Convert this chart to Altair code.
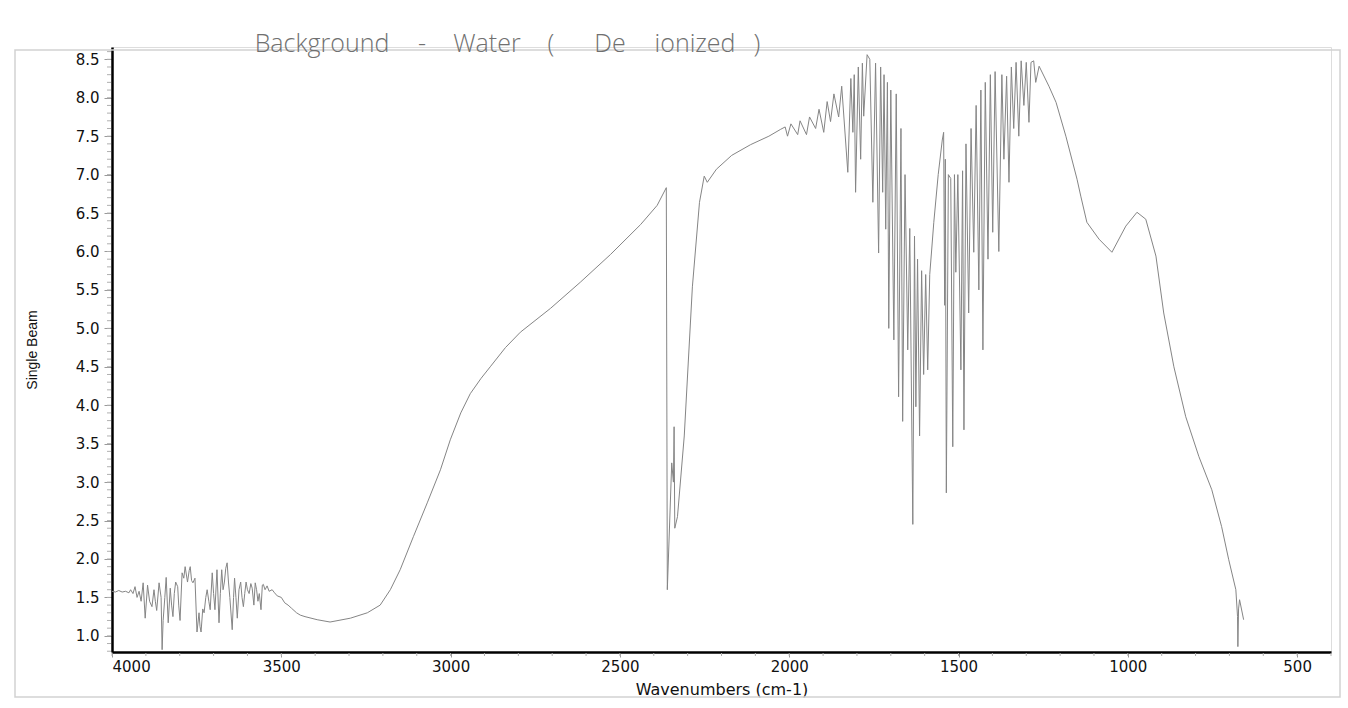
import altair as alt
import pandas as pd

# ---------------- data ----------------
WAVENUMBER = [
    4000, 3990, 3980, 3970, 3960, 3950, 3945, 3938, 3932, 3926, 3920, 3914, 3908, 3902, 3895,
    3889, 3882, 3876, 3872, 3868, 3861, 3855, 3852, 3849, 3844, 3840, 3834, 3828, 3824, 3820,
    3816, 3812, 3806, 3803, 3799, 3793, 3788, 3784, 3777, 3772, 3769, 3765, 3761, 3755, 3749,
    3743, 3740, 3737, 3732, 3728, 3723, 3719, 3714, 3710, 3704, 3700, 3696, 3690, 3684, 3680,
    3676, 3672, 3668, 3664, 3660, 3656, 3652, 3645, 3641, 3638, 3634, 3630, 3625, 3620, 3616,
    3612, 3608, 3604, 3600, 3595, 3590, 3586, 3581, 3577, 3573, 3569, 3565, 3560, 3556, 3553,
    3548, 3542, 3536, 3527, 3520, 3512, 3500, 3490, 3480, 3470, 3455, 3444, 3430,
    3394, 3356, 3296, 3246, 3208, 3178, 3149, 3110, 3069, 3030, 3001, 2970, 2942, 2910, 2883,
    2838, 2794, 2705, 2617, 2528, 2439, 2390, 2363, 2360, 2347, 2342, 2340, 2338, 2330, 2310,
    2286, 2265, 2251, 2242, 2215, 2170, 2114, 2060, 2025,
    2012, 2005, 1995, 1975, 1968, 1949, 1940, 1922, 1912, 1898, 1888, 1878, 1868, 1854, 1845,
    1827, 1818, 1812, 1808, 1804, 1796, 1789, 1784, 1780, 1770, 1762, 1753, 1745, 1736, 1730,
    1724, 1720, 1715, 1710, 1706, 1700, 1691, 1684, 1677, 1670, 1665, 1658, 1650, 1644, 1635,
    1630, 1626, 1621, 1615, 1609, 1603, 1597, 1591, 1585, 1573, 1560, 1548, 1544, 1541, 1539,
    1536, 1530, 1523, 1517, 1512, 1508, 1502, 1493, 1488, 1484, 1478, 1470, 1463, 1455, 1448,
    1440, 1434, 1428, 1421, 1413, 1406, 1399, 1392, 1381, 1372, 1366, 1358, 1351, 1344, 1337,
    1330, 1322, 1315, 1307, 1300, 1292, 1286, 1278, 1272, 1262,
    1233, 1212, 1183, 1150, 1139, 1121, 1085, 1047, 1006, 973, 947, 917, 894, 864, 829,
    790, 752, 723, 702, 681, 676, 675, 673, 670, 658,
]
SINGLE_BEAM = [
    1.58, 1.57, 1.59, 1.57, 1.58, 1.56, 1.60, 1.55, 1.64, 1.50, 1.58, 1.45, 1.69, 1.23, 1.66,
    1.45, 1.38, 1.60, 1.45, 1.33, 1.69, 1.50, 0.82, 1.20, 1.50, 1.76, 1.17, 1.62, 1.40, 1.25,
    1.55, 1.70, 1.64, 1.40, 1.20, 1.82, 1.75, 1.90, 1.70, 1.85, 1.90, 1.72, 1.69, 1.75, 1.05,
    1.30, 1.12, 1.05, 1.35, 1.30, 1.50, 1.60, 1.45, 1.34, 1.82, 1.55, 1.34, 1.86, 1.17, 1.55,
    1.86, 1.60, 1.70, 1.88, 1.95, 1.70, 1.50, 1.08, 1.50, 1.75, 1.50, 1.23, 1.60, 1.70, 1.50,
    1.38, 1.55, 1.70, 1.60, 1.55, 1.68, 1.62, 1.40, 1.69, 1.60, 1.45, 1.55, 1.34, 1.66, 1.67,
    1.60, 1.65, 1.58, 1.60, 1.56, 1.52, 1.50, 1.43, 1.40, 1.36, 1.30, 1.27, 1.25,
    1.21, 1.18, 1.23, 1.30, 1.40, 1.60, 1.86, 2.29, 2.73, 3.16, 3.55, 3.90, 4.15, 4.35, 4.50,
    4.75, 4.95, 5.26, 5.60, 5.96, 6.35, 6.60, 6.83, 1.60, 3.25, 3.00, 3.72, 2.40, 2.55, 3.60,
    5.54, 6.64, 6.98, 6.90, 7.07, 7.25, 7.39, 7.50, 7.59,
    7.62, 7.50, 7.66, 7.52, 7.70, 7.52, 7.75, 7.60, 7.85, 7.55, 7.95, 7.69, 8.05, 7.75, 8.15,
    7.03, 8.25, 7.55, 8.30, 6.77, 8.40, 7.20, 8.45, 7.76, 8.56, 8.50, 6.64, 8.45, 5.98, 8.40,
    6.77, 8.30, 6.29, 8.20, 5.00, 8.10, 4.85, 8.05, 4.11, 7.60, 3.79, 7.00, 4.72, 6.30, 2.45,
    6.20, 3.98, 5.90, 3.60, 5.75, 4.40, 5.70, 4.46, 5.70, 6.38, 7.00, 7.45, 7.55, 5.30, 7.20,
    2.86, 7.00, 6.95, 3.46, 7.00, 5.73, 7.00, 4.46, 7.05, 3.68, 7.40, 5.20, 7.60, 5.99, 7.90,
    5.50, 8.10, 4.72, 8.20, 5.90, 8.30, 6.25, 8.34, 6.00, 8.30, 7.20, 8.28, 6.90, 8.40, 7.60,
    8.46, 7.50, 8.48, 7.90, 8.46, 7.68, 8.46, 8.48, 8.20, 8.41,
    8.15, 7.94, 7.50, 6.94, 6.72, 6.38, 6.16, 5.99, 6.33, 6.51, 6.42, 5.94, 5.20, 4.50, 3.85,
    3.33, 2.90, 2.42, 1.99, 1.60, 1.25, 0.86, 1.35, 1.47, 1.21,
]

X_TICKS = [4000, 3500, 3000, 2500, 2000, 1500, 1000, 500]
Y_TICKS = [1.0, 1.5, 2.0, 2.5, 3.0, 3.5, 4.0, 4.5, 5.0, 5.5, 6.0, 6.5, 7.0, 7.5, 8.0, 8.5]
Y_MINOR = [round(0.8 + 0.1 * i, 1) for i in range(79)]
X_MINOR = [400 + 100 * i for i in range(37)]
TITLE_WORDS = ["Background", "-", "Water", "(", "De", "ionized", ")"]

W, H = 1219, 605
X_DOMAIN = [400, 4000]
Y_DOMAIN = [0.79, 8.66]

df = pd.DataFrame({"wn": WAVENUMBER, "sb": SINGLE_BEAM})

xscale = alt.Scale(domain=X_DOMAIN, reverse=True, nice=False, zero=False)
yscale = alt.Scale(domain=Y_DOMAIN, nice=False, zero=False)

line = alt.Chart(df).mark_line(color="#858585", strokeWidth=1, clip=True).encode(
    x=alt.X(
        "wn:Q",
        scale=xscale,
        axis=alt.Axis(
            values=X_TICKS, format="d", title="Wavenumbers (cm-1)",
            grid=False, domainColor="#000000", domainWidth=2.5,
            tickColor="#9a9a9a", tickSize=5, labelPadding=2,
            labelFont="DejaVu Sans", labelFontSize=15, labelColor="#111111",
            titleFont="DejaVu Sans", titleFontSize=16, titleFontWeight="normal",
            titleColor="#111111", titlePadding=7,
        ),
    ),
    y=alt.Y(
        "sb:Q",
        scale=yscale,
        axis=alt.Axis(
            values=Y_TICKS, format=".1f", title="Single Beam",
            grid=False, domainColor="#000000", domainWidth=2.5,
            tickColor="#9a9a9a", tickSize=8, labelPadding=5,
            labelFont="DejaVu Sans", labelFontSize=15, labelColor="#111111",
            titleFont="Liberation Sans", titleFontSize=14, titleFontWeight="normal",
            titleColor="#111111", titlePadding=36,
        ),
    ),
    order=alt.Order("wn:Q", sort="descending"),
)

ymin = alt.Chart(pd.DataFrame({"v": Y_MINOR})).mark_rule(
    color="#b0b0b0", strokeWidth=1
).encode(
    y=alt.Y("v:Q", scale=yscale),
    x=alt.value(-5),
    x2=alt.value(-1),
)

xmin = alt.Chart(pd.DataFrame({"v": X_MINOR})).mark_rule(
    color="#b0b0b0", strokeWidth=1
).encode(
    x=alt.X("v:Q", scale=xscale),
    y=alt.value(H + 1),
    y2=alt.value(H + 4),
)

frame = alt.Chart(pd.DataFrame({"a": [0]})).mark_rect(
    fill=None, stroke="#d2d2d2", strokeWidth=1.5
).encode(
    x=alt.value(-97), x2=alt.value(1228), y=alt.value(3), y2=alt.value(650)
)

title_pos = [210, 310, 375, 439, 498, 583, 645]
title_layers = []
for word, px in zip(TITLE_WORDS, title_pos):
    title_layers.append(
        alt.Chart(pd.DataFrame({"t": [word]})).mark_text(
            font="Open Sans", fontSize=25, fontWeight=300,
            color="#707070", align="center", baseline="middle",
        ).encode(text="t:N", x=alt.value(px), y=alt.value(-3))
    )

chart = alt.layer(frame, ymin, xmin, line, *title_layers).properties(
    width=W,
    height=H,
    autosize=alt.AutoSizeParams(type="none"),
    padding={"left": 112, "top": 47, "right": 17, "bottom": 56},
).configure_view(stroke=None).configure(background="white")

chart.save("out.html", embed_options={"renderer": "svg", "actions": False})
